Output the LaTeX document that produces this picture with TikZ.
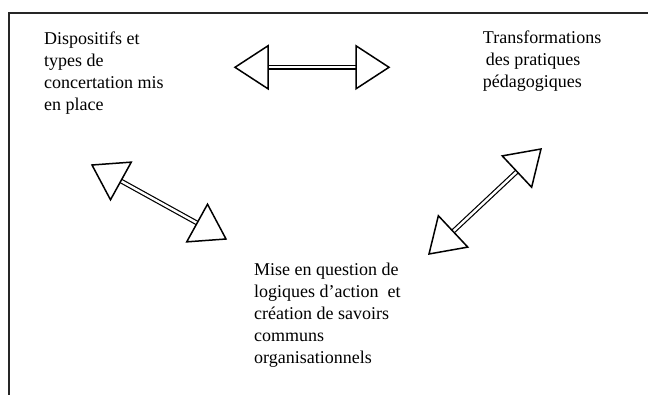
\documentclass[tikz,border=0pt]{standalone}
\usepackage{fontspec}
\setmainfont{Liberation Serif}
\usetikzlibrary{calc}

\tikzset{
    cadre/.style={line width=2pt, black!85},
    bloc/.style={align=left, anchor=base west, inner sep=0pt, font=\fontsize{18}{22}\selectfont},
    tige/.style={line width=1.2pt, double=white, double distance=2.4pt},
    pointe/.style={line width=1.5pt, fill=white}
}

\begin{document}
\begin{tikzpicture}[x=1pt,y=-1pt]
        \useasboundingbox (0,0) rectangle (648,395);
        \draw[cadre] (9,395) -- (9,13.5) -- (648,13.5);

        % base = ligne du bas de chaque bloc
        \node[bloc] (dispositifs) at (44,111) {Dispositifs et\\types de\\concertation mis\\en place};
        \node[bloc] (transformations) at (482.7,88) {Transformations\\\hspace{3pt}des pratiques\\p\'edagogiques};
        \node[bloc] (mise) at (254,363) {Mise en question de\\logiques d’action\ \ et\\cr\'eation de savoirs\\communs\\organisationnels};

        % bouts des trois fleches
        \coordinate (h1) at (235,67.3);
        \coordinate (h2) at (389,67.3);
        \coordinate (g1) at (92,165);
        \coordinate (g2) at (226,239);
        \coordinate (d1) at (541,149);
        \coordinate (d2) at (429,254);

        \foreach \a/\b in {h1/h2, g1/g2, d1/d2}
        {
            \draw[tige] ($(\a)!33pt!(\b)$) -- ($(\b)!33pt!(\a)$);
            \foreach \p/\q in {\a/\b, \b/\a}
                \draw[pointe] (\p) -- ($(\p)!33pt!(\q)!21.5pt!90:(\q)$)
                    -- ($(\p)!33pt!(\q)!21.5pt!-90:(\q)$) -- cycle;
        }
    \end{tikzpicture}
\end{document}
